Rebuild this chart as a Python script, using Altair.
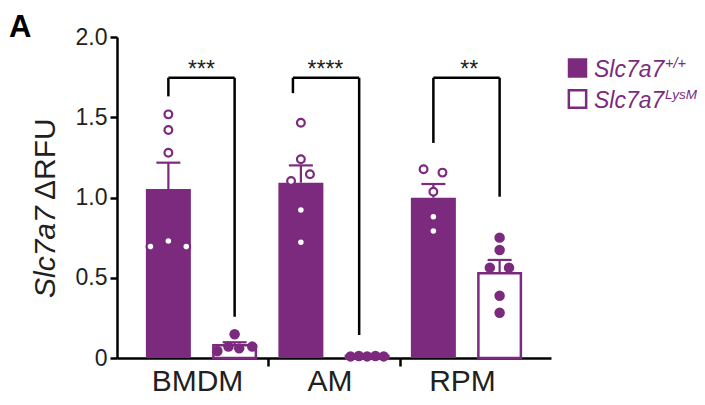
import altair as alt
import pandas as pd

PURPLE = "#7B2A7E"
INK = "#231F20"
FONT = "Liberation Sans"

# ---- data ----
groups = ["BMDM", "AM", "RPM"]
genotypes = ["WT", "KO"]
wt_means = [1.053, 1.092, 0.999]
wt_err_top = [1.217, 1.200, 1.084]
ko_means = [0.079, 0.012, 0.528]
ko_err_top = [0.098, 0.016, 0.611]

wt_points = {
    "BMDM": [1.518, 1.420, 1.279, 0.694, 0.729, 0.694],
    "AM": [1.466, 1.238, 1.145, 1.103, 0.922, 0.721],
    "RPM": [1.176, 1.155, 1.036, 0.880, 0.791],
}
wt_jitter = {
    "BMDM": [0, 0, 0, -0.27, 0, 0.27],
    "AM": [0, 0, 0.137, -0.148, 0, 0],
    "RPM": [-0.148, 0.137, 0, 0, 0],
}
ko_points = {
    "BMDM": [0.148, 0.071, 0.060, 0.044, 0.071],
    "AM": [0.010, 0.012, 0.010, 0.012, 0.010],
    "RPM": [0.750, 0.673, 0.563, 0.563, 0.388, 0.282],
}
ko_jitter = {
    "BMDM": [0, -0.093, 0.069, -0.26, 0.266],
    "AM": [-0.25, -0.125, 0, 0.125, 0.25],
    "RPM": [0, 0, -0.148, 0.142, 0, 0],
}

# significance brackets
sig_labels = ["***", "****", "**"]
brk_left_x = [1.0, 2.88, 5.0]
brk_right_x = [2.0, 3.88, 6.0]
brk_left_bottom = [1.63, 1.65, 1.34]
brk_right_bottom = [0.257, 0.143, 1.005]
brk_top = 1.746
star_x = [1.5, 3.37, 5.54]

y_ticks = [0, 0.5, 1.0, 1.5, 2.0]
group_sep_ticks = [2.5, 4.5]

# ---- tables ----
pos = {}
for i, g in enumerate(groups):
    pos[(g, "WT")] = 1 + 2 * i
    pos[(g, "KO")] = 2 + 2 * i

bars = pd.DataFrame({
    "x": [pos[(g, gt)] for g in groups for gt in genotypes],
    "mean": [v for pair in zip(wt_means, ko_means) for v in pair],
    "top": [v for pair in zip(wt_err_top, ko_err_top) for v in pair],
    "geno": [gt for g in groups for gt in genotypes],
})

wt_rows = []
ko_rows = []
for g in groups:
    for v, j in zip(wt_points[g], wt_jitter[g]):
        wt_rows.append({"x": pos[(g, "WT")] + j, "v": v})
    for v, j in zip(ko_points[g], ko_jitter[g]):
        ko_rows.append({"x": pos[(g, "KO")] + j, "v": v})
wt_df = pd.DataFrame(wt_rows)
ko_df = pd.DataFrame(ko_rows)

rule_rows = []
for xl, xr, yl, yr in zip(brk_left_x, brk_right_x, brk_left_bottom, brk_right_bottom):
    rule_rows.append({"x": xl, "x2": xl, "y": yl, "y2": brk_top})
    rule_rows.append({"x": xr, "x2": xr, "y": yr, "y2": brk_top})
    rule_rows.append({"x": xl, "x2": xr, "y": brk_top, "y2": brk_top})
rules = pd.DataFrame(rule_rows)
stars = pd.DataFrame({"x": star_x, "y": [brk_top] * 3, "t": sig_labels})
glabels = pd.DataFrame({"x": [1.5, 3.5, 5.5], "t": groups})

W, H = 434, 321
xs = alt.Scale(domain=[0.3, 6.7], nice=False, zero=False)
ys = alt.Scale(domain=[0, 2], nice=False)

x_axis = alt.Axis(values=group_sep_ticks, labels=False, title=None, grid=False,
                  tickSize=8, tickWidth=2.5, tickColor="black",
                  domainColor="black", domainWidth=2.5)
y_axis = alt.Axis(values=y_ticks, title=None, grid=False, tickSize=7, tickWidth=2.5,
                  tickColor="black", domainColor="black", domainWidth=2.5,
                  labelFontSize=23, labelColor=INK, labelFont=FONT, labelPadding=3,
                  labelExpr="datum.value == 0 ? '0' : format(datum.value, '.1f')")

base_bars = alt.Chart(bars)
wt_bar = base_bars.transform_filter("datum.geno == 'WT'").mark_bar(
    size=45, color=PURPLE).encode(
    x=alt.X("x:Q", scale=xs, axis=x_axis),
    y=alt.Y("mean:Q", scale=ys, axis=y_axis))
ko_bar = base_bars.transform_filter("datum.geno == 'KO'").mark_bar(
    size=42.5, fill="white", stroke=PURPLE, strokeWidth=2.5).encode(
    x=alt.X("x:Q", scale=xs), y=alt.Y("mean:Q", scale=ys))
err = base_bars.mark_rule(color=PURPLE, strokeWidth=2.2).encode(
    x=alt.X("x:Q", scale=xs), y=alt.Y("mean:Q", scale=ys), y2="top:Q")
cap = base_bars.mark_tick(orient="horizontal", size=24, thickness=2.2,
                          color=PURPLE, opacity=1).encode(
    x=alt.X("x:Q", scale=xs), y=alt.Y("top:Q", scale=ys))

wt_pts = alt.Chart(wt_df).mark_point(shape="circle", filled=True, fill="white",
                                     stroke=PURPLE, strokeWidth=2.2, size=60,
                                     opacity=1, fillOpacity=1).encode(
    x=alt.X("x:Q", scale=xs), y=alt.Y("v:Q", scale=ys))
ko_pts = alt.Chart(ko_df).mark_circle(size=110, color=PURPLE, opacity=1).encode(
    x=alt.X("x:Q", scale=xs), y=alt.Y("v:Q", scale=ys))

brk = alt.Chart(rules).mark_rule(color="black", strokeWidth=2.5).encode(
    x=alt.X("x:Q", scale=xs), x2="x2:Q", y=alt.Y("y:Q", scale=ys), y2="y2:Q")
star_txt = alt.Chart(stars).mark_text(font=FONT, fontSize=23, color=INK,
                                      baseline="alphabetic", dy=-1).encode(
    x=alt.X("x:Q", scale=xs), y=alt.Y("y:Q", scale=ys), text="t:N")

grp_txt = alt.Chart(glabels).mark_text(font=FONT, fontSize=30, color=INK,
                                       baseline="bottom", dx=-4).encode(
    x=alt.X("x:Q", scale=xs), y=alt.value(360), text="t:N")

one = pd.DataFrame({"k": [0]})


def label(text, x, y, **kw):
    return alt.Chart(one).mark_text(font=FONT, **kw).encode(
        x=alt.value(x), y=alt.value(y), text=alt.value(text))


panel = label("A", -108, -0.5, fontSize=31, fontWeight="bold", color="black",
              align="left", baseline="alphabetic")
ytitle1 = label("Slc7a7", -62, 261, fontSize=30, fontStyle="italic", color=INK,
                angle=270, align="left", baseline="alphabetic")
ytitle2 = label("ΔRFU", -62, 163, fontSize=30, color=INK,
                angle=270, align="left", baseline="alphabetic")

LX = 460.5  # legend square centre (plot coordinates)
leg_sq1 = alt.Chart(one).mark_point(shape="square", filled=True, color=PURPLE,
                                    size=380, opacity=1).encode(
    x=alt.value(LX), y=alt.value(31))
leg_sq2 = alt.Chart(one).mark_point(shape="square", filled=True, fill="white",
                                    stroke=PURPLE, strokeWidth=2.5, size=300,
                                    opacity=1).encode(
    x=alt.value(LX), y=alt.value(62))
leg_t1 = label("Slc7a7", LX + 16.5, 40.3, fontSize=23, fontStyle="italic", color=PURPLE,
               align="left", baseline="alphabetic")
leg_s1 = label("+/+", LX + 87.5, 31, fontSize=14.5, fontStyle="italic", color=PURPLE,
               align="left", baseline="alphabetic")
leg_t2 = label("Slc7a7", LX + 16.5, 71.3, fontSize=23, fontStyle="italic", color=PURPLE,
               align="left", baseline="alphabetic")
leg_s2 = label("LysM", LX + 87.5, 62, fontSize=13.5, fontStyle="italic", color=PURPLE,
               align="left", baseline="alphabetic")

chart = alt.layer(
    wt_bar, ko_bar, err, cap, wt_pts, ko_pts, brk, star_txt, grp_txt,
    panel, ytitle1, ytitle2, leg_sq1, leg_sq2, leg_t1, leg_s1, leg_t2, leg_s2,
).properties(
    width=W, height=H,
    autosize=alt.AutoSizeParams(type="none"),
    padding={"left": 109, "top": 29, "right": 146, "bottom": 39},
).configure(font=FONT, view=alt.ViewConfig(stroke=None))

chart.save("out.html", embed_options={"renderer": "svg", "actions": False})
